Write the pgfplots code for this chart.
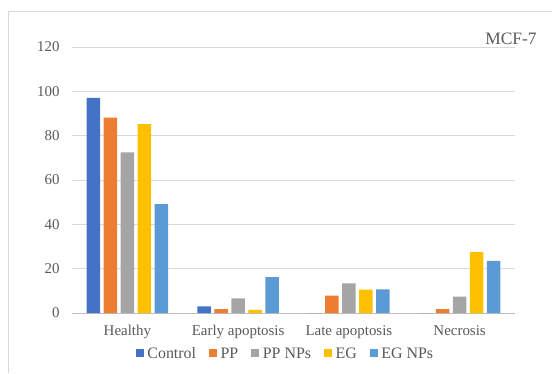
\documentclass[border=0pt]{standalone}
\usepackage{fontspec}
\setmainfont{Liberation Serif}
\usepackage{pgfplots}
\pgfplotsset{compat=1.18}

\definecolor{cControl}{HTML}{4472C4}
\definecolor{cPP}{HTML}{ED7D31}
\definecolor{cPPNP}{HTML}{A5A5A5}
\definecolor{cEG}{HTML}{FFC000}
\definecolor{cEGNP}{HTML}{5B9BD5}
\definecolor{gridgray}{HTML}{D9D9D9}
\definecolor{basegray}{HTML}{BFBFBF}
\definecolor{txtgray}{HTML}{595959}

% Cell populations (%) per treatment, categories at x = 0..3
\pgfplotstableread{
x Control PP PPNP EG EGNP
0 97.1 88.1 72.5 85.2 49.1
1 3.0 1.8 6.6 1.4 16.2
2 0.0 7.8 13.4 10.6 10.7
3 0.0 1.8 7.4 27.5 23.5
}\datatable

\begin{document}
\begin{tikzpicture}[x=1bp,y=1bp]
\useasboundingbox (0,0) rectangle (552,373);
\draw[gridgray, line width=0.8bp] (8,0) -- (8,362) -- (552,362);
\node[txtgray, font=\fontsize{17.5}{20}\selectfont] at (511,334) {MCF-7};
\begin{axis}[
  at={(72bp,60bp)}, anchor=south west,
  scale only axis, width=443bp, height=266bp,
  ybar=3.5bp, bar width=13.5bp,
  xmin=-0.5, xmax=3.5, ymin=0, ymax=120,
  xtick={0,1,2,3},
  xticklabels={Healthy, Early apoptosis, Late apoptosis, Necrosis},
  ytick={0,20,...,120},
  ymajorgrids, grid style={gridgray, line width=0.8bp},
  axis x line*=bottom, axis y line*=left,
  y axis line style={draw=none},
  x axis line style={basegray, line width=0.8bp},
  tick style={draw=none}, major tick length=0pt,
  /pgf/number format/assume math mode=true,
  ticklabel style={txtgray, font=\fontsize{15}{18}\selectfont},
  yticklabel style={xshift=-9bp},
  xticklabel style={yshift=-9bp},
  legend columns=-1,
  legend style={at={(0.482,-0.154)}, anchor=center, draw=none,
    font=\fontsize{16}{19}\selectfont, text=txtgray,
    /tikz/every even column/.append style={column sep=11bp},
    /tikz/every odd column/.append style={column sep=1.5bp}},
  legend image code/.code={\fill[#1] (0bp,-3.5bp) rectangle (8bp,4.5bp);},
]
\addplot[fill=cControl, draw=none] table[x=x, y=Control] {\datatable};
\addplot[fill=cPP, draw=none] table[x=x, y=PP] {\datatable};
\addplot[fill=cPPNP, draw=none] table[x=x, y=PPNP] {\datatable};
\addplot[fill=cEG, draw=none] table[x=x, y=EG] {\datatable};
\addplot[fill=cEGNP, draw=none] table[x=x, y=EGNP] {\datatable};
\legend{Control, PP, PP NPs, EG, EG NPs}
\end{axis}
\end{tikzpicture}
\end{document}
